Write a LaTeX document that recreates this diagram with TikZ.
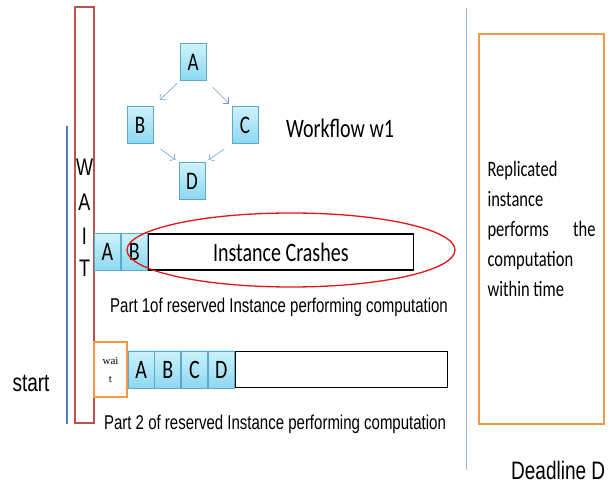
\documentclass[tikz,border=0pt]{standalone}
\usepackage{fontspec}
\setmainfont{Carlito}
\newfontfamily\arialfont{Liberation Sans}
\newfontfamily\timesfont{Liberation Serif}
\usepackage{graphicx}
\usetikzlibrary{arrows.meta,positioning}
\definecolor{waitRed}{RGB}{192,80,77}
\definecolor{lineBlue}{RGB}{79,129,189}
\definecolor{paleBlue}{RGB}{155,185,225}
\definecolor{boxOrange}{RGB}{247,150,70}
\definecolor{cellEdge}{RGB}{90,170,200}
\definecolor{cellTop}{RGB}{205,242,252}
\definecolor{cellBot}{RGB}{140,216,240}
\definecolor{crashRed}{RGB}{230,20,20}
\tikzset{
  cell/.style={draw=cellEdge, line width=0.7pt, top color=cellTop, bottom color=cellBot,
    minimum width=26pt, minimum height=37pt, inner sep=0pt},
  runbar/.style={draw=black, line width=1.5pt, minimum height=36pt, inner sep=0pt},
  flowarr/.style={-{Straight Barb[length=4pt,width=8pt]}, draw=lineBlue!80, line width=0.6pt},
  txt/.style={inner sep=0pt},
}
\newcommand{\tall}[1]{\scalebox{1}[1.33]{#1}}
\newcommand{\cellfont}{\fontsize{20}{20}\selectfont}
\newcommand{\partfont}{\arialfont\fontsize{15}{15}\selectfont}

\begin{document}
\begin{tikzpicture}[x=1pt,y=-1pt]
    \useasboundingbox (0,0) rectangle (614,486);
    % time lines and wait column
    \draw[lineBlue, line width=1.2pt] (67,126) -- (67,424);
    \draw[paleBlue, line width=0.8pt] (466,8) -- (466,470);
    \draw[waitRed, line width=1.3pt] (75,7) rectangle (94,423);
    \foreach \ch/\yy in {W/167,A/202,I/236,T/268}
      \node[txt, font=\arialfont\fontsize{18}{18}\selectfont] (w\ch) at (84.5,\yy) {\tall{\ch}};
    \node[txt, font=\arialfont\fontsize{19}{19}\selectfont] (start) at (31,383) {\tall{start}};
    % workflow w1
    \node[cell, font=\fontsize{19}{19}\selectfont] (A) at (193,62) {\tall{A}};
    \node[cell, font=\fontsize{19}{19}\selectfont] (B) at (140,125) {\tall{B}};
    \node[cell, font=\fontsize{19}{19}\selectfont] (C) at (245,125) {\tall{C}};
    \node[cell, font=\fontsize{19}{19}\selectfont] (D) at (192,181) {\tall{D}};
    \draw[flowarr, shorten <=4pt, shorten >=9pt] (A.south west) -- (B.north east);
    \draw[flowarr, shorten <=9pt, shorten >=4pt] (A.south east) -- (C.north west);
    \draw[flowarr, shorten <=9pt, shorten >=4pt] (B.south east) -- (D.north west);
    \draw[flowarr, shorten <=9pt, shorten >=4pt] (C.south west) -- (D.north east);
    \node[txt, font=\fontsize{20}{20}\selectfont] (wflabel) at (340,128) {\tall{Workflow w1}};
    % part 1: reserved instance crashes
    \node[cell, font=\cellfont] (A1) at (107.5,252) {\tall{A}};
    \node[cell, font=\cellfont, right=0pt of A1] (B1) {\tall{B}};
    \node[runbar, minimum width=265pt, right=0pt of B1, font=\cellfont] (crash) {\tall{Instance Crashes}};
    \draw[crashRed, line width=1.3pt] (291,250) ellipse [x radius=164, y radius=37];
    \node[txt, font=\partfont] (part1) at (279,307) {\tall{Part 1of reserved Instance performing computation}};
    % part 2: waits, then runs the workflow
    \node[draw=boxOrange, line width=1.5pt, fill=white, minimum width=33pt, minimum height=55pt,
      inner sep=0pt, align=center, font=\timesfont\fontsize{11}{18}\selectfont] (wait) at (110.5,369.5) {wai\\t};
    \node[cell, font=\cellfont, right=0pt of wait] (A2) {\tall{A}};
    \node[cell, font=\cellfont, right=0pt of A2] (B2) {\tall{B}};
    \node[cell, font=\cellfont, right=0pt of B2] (C2) {\tall{C}};
    \node[cell, font=\cellfont, right=0pt of C2] (D2) {\tall{D}};
    \node[runbar, minimum width=212pt, right=0pt of D2] (run2) {};
    \node[txt, font=\partfont] (part2) at (275,424) {\tall{Part 2 of reserved Instance performing computation}};
    % replicated instance
    \node[draw=boxOrange, line width=1.5pt, minimum width=125pt, minimum height=390pt, inner sep=0pt]
      (replica) at (541.5,229) {\tall{\parbox{108pt}{\fontsize{16.5}{22.5}\selectfont
        Replicated\\instance\\performs\hspace{\fill}the\\computation\\within time}}};
    \node[txt, anchor=west, font=\arialfont\fontsize{19}{19}\selectfont] (deadline) at (511,470) {\tall{Deadline D}};
  \end{tikzpicture}
\end{document}
